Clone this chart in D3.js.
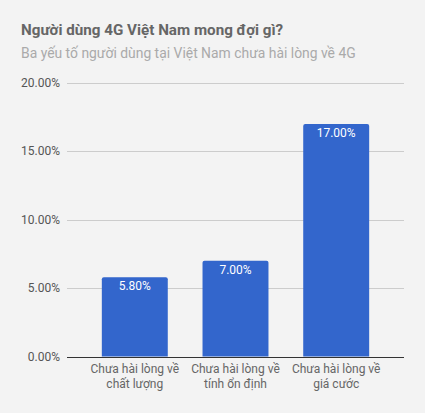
<!DOCTYPE html>
<html><head><meta charset="utf-8">
<script src="https://cdn.jsdelivr.net/npm/d3@7"></script>
<style>
html,body{margin:0;padding:0;background:#f3f3f3;}
svg{display:block;font-family:Roboto,"Noto Sans",sans-serif;}
</style></head>
<body>
<svg id="chart" width="425" height="413"></svg>
<script>
const title = "Người dùng 4G Việt Nam mong đợi gì?";
const subtitle = "Ba yếu tố người dùng tại Việt Nam chưa hài lòng về 4G";
const categories = [["Chưa hài lòng về","chất lượng"],["Chưa hài lòng về","tính ổn định"],["Chưa hài lòng về","giá cước"]];
const values = [5.8, 7.0, 17.0];
const yTicks = [0, 5, 10, 15, 20];

const svg = d3.select("#chart");
svg.append("rect").attr("width",425).attr("height",413).attr("fill","#f3f3f3");

svg.append("text").attr("x",21).attr("y",35).attr("fill","#666")
  .attr("font-size","15.2px").attr("font-weight","bold").text(title);
svg.append("text").attr("x",21).attr("y",58).attr("fill","#aaa")
  .attr("font-size","13.9px").text(subtitle);

const y = d3.scaleLinear().domain([0,20]).range([356.5,83]);
const x = d3.scaleBand().domain(d3.range(categories.length)).range([84.5,386.5]).paddingInner(0.345).paddingOuter(0.172);

const gridX0 = 67, gridX1 = 404;
svg.append("g").selectAll("line").data(yTicks.filter(t=>t>0)).join("line")
  .attr("x1",gridX0).attr("x2",gridX1)
  .attr("y1",d=>Math.round(y(d))+0.5).attr("y2",d=>Math.round(y(d))+0.5)
  .attr("stroke","#ccc").attr("stroke-width",1);

svg.append("g").selectAll("text").data(yTicks).join("text")
  .attr("x",60).attr("y",d=>y(d)+4).attr("text-anchor","end")
  .attr("fill","#555").attr("font-size","12px")
  .text(d=>d.toFixed(2)+"%");

const bars = svg.append("g").selectAll("g").data(values).join("g");
bars.append("path").attr("fill","#3366cc")
  .attr("d",(d,i)=>{
    const x0=x(i), w=x.bandwidth(), y0=y(d), y1=y(0), r=2;
    return `M${x0},${y1}V${y0+r}Q${x0},${y0} ${x0+r},${y0}H${x0+w-r}Q${x0+w},${y0} ${x0+w},${y0+r}V${y1}Z`;
  });
bars.append("text").attr("x",(d,i)=>x(i)+x.bandwidth()/2).attr("y",d=>y(d)+13)
  .attr("text-anchor","middle").attr("fill","#fff").attr("font-size","12px")
  .text(d=>d.toFixed(2)+"%");

svg.append("line").attr("x1",gridX0).attr("x2",gridX1)
  .attr("y1",Math.round(y(0))+0.5).attr("y2",Math.round(y(0))+0.5)
  .attr("stroke","#333").attr("stroke-width",1);

const cl = svg.append("g").selectAll("text").data(categories).join("text")
  .attr("text-anchor","middle").attr("fill","#666").attr("font-size","12px");
cl.each(function(d,i){
  const t=d3.select(this);
  d.forEach((line,j)=>{
    t.append("tspan").attr("x",x(i)+x.bandwidth()/2).attr("y",373+j*15).text(line);
  });
});
</script>
</body></html>
